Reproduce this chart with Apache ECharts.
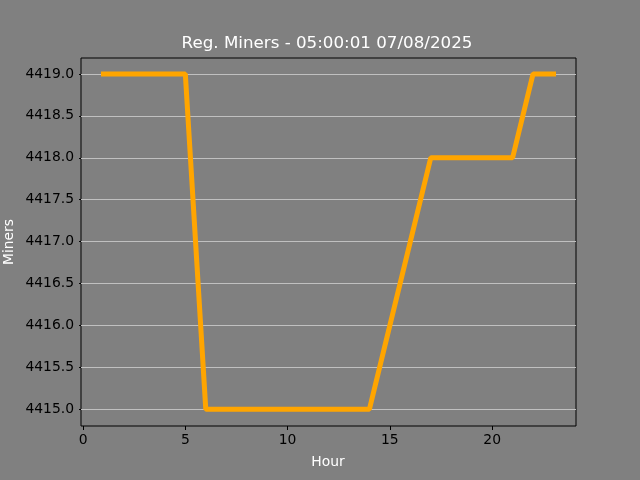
<!DOCTYPE html>
<html>
<head>
<meta charset="utf-8">
<script src="https://cdn.jsdelivr.net/npm/echarts@6/dist/echarts.min.js"></script>
<style>
html,body{margin:0;padding:0;background:#808080;}
#chart{width:640px;height:480px;}
</style>
</head>
<body>
<div id="chart"></div>
<script>
const hours = [1,2,3,4,5,6,7,8,9,10,11,12,13,14,15,16,17,18,19,20,21,22,23];
const miners = [4419,4419,4419,4419,4419,4415,4415,4415,4415,4415,4415,4415,4415,4415,4416,4417,4418,4418,4418,4418,4418,4419,4419];
const xTicks = [0,5,10,15,20];
const yTicks = [4415,4415.5,4416,4416.5,4417,4417.5,4418,4418.5,4419];
const titleText = 'Reg. Miners - 05:00:01 07/08/2025';

const chart = echarts.init(document.getElementById('chart'), null, {renderer:'canvas'});
const font = 'DejaVu Sans';
chart.setOption({
  backgroundColor:'#808080',
  animation:false,
  grid:{left:81,right:64,top:58,bottom:54,show:true,backgroundColor:'#808080',borderColor:'#000',borderWidth:1},
  graphic:[
    {type:'text',x:327,y:44,style:{text:titleText,fill:'#fff',font:'16.7px "DejaVu Sans"',textAlign:'center',textVerticalAlign:'middle'}},
    {type:'text',x:328,y:462,style:{text:'Hour',fill:'#fff',font:'13.9px "DejaVu Sans"',textAlign:'center',textVerticalAlign:'middle'}},
    {type:'text',x:9,y:242,rotation:Math.PI/2,style:{text:'Miners',fill:'#fff',font:'13.9px "DejaVu Sans"',textAlign:'center',textVerticalAlign:'middle'}}
  ],
  xAxis:{type:'value',min:-0.1,max:24.1,
    axisLine:{show:false},
    axisTick:{show:true,length:4,inside:false,lineStyle:{color:'#000'},customValues:xTicks},
    axisLabel:{show:true,color:'#000',fontFamily:font,fontSize:13.9,margin:7,customValues:xTicks},
    splitLine:{show:false}},
  yAxis:{type:'value',min:4414.8,max:4419.19,
    axisLine:{show:false},
    axisTick:{show:true,length:4,inside:false,lineStyle:{color:'#000'},customValues:yTicks},
    axisLabel:{show:true,color:'#000',fontFamily:font,fontSize:13.9,margin:7,customValues:yTicks,formatter:v=>v.toFixed(1)},
    splitLine:{show:false}},
  series:[
    {type:'line',data:hours.map((h,i)=>[h,miners[i]]),showSymbol:false,symbol:'none',
     lineStyle:{color:'#FFA500',width:5,cap:'square'},z:5,
     markLine:{silent:true,symbol:'none',label:{show:false},lineStyle:{color:'#c0c0c0',width:1,type:'solid'},z:1,
       data:yTicks.map(v=>({yAxis:v}))}}
  ]
});
</script>
</body>
</html>
